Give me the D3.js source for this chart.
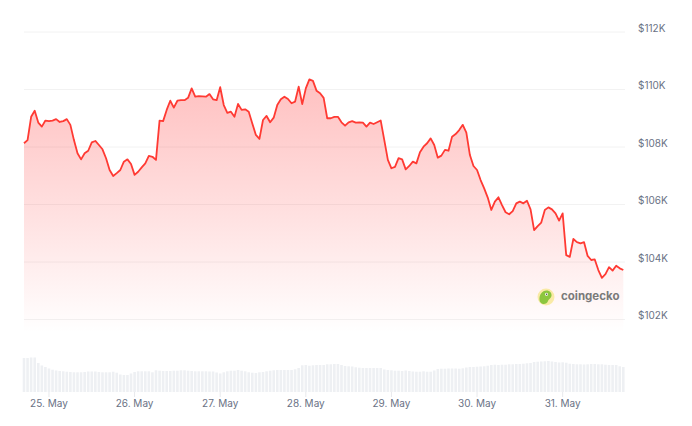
<!DOCTYPE html>
<html>
<head>
<meta charset="utf-8">
<script src="https://cdn.jsdelivr.net/npm/d3@7"></script>
<style>
  html, body { margin: 0; padding: 0; background: #ffffff; }
  svg { display: block; }
</style>
</head>
<body>
<svg id="chart" width="692" height="426"></svg>
<script>
// ---- data (hourly, starting 24 May 17:00 UTC) ----
const startTime = Date.UTC(2025, 4, 24, 17, 0);
const priceK = [
  108.13,108.24,109.05,109.26,108.85,108.71,108.92,108.90,108.92,108.97,
  108.87,108.90,108.97,108.77,108.24,107.78,107.57,107.78,107.87,108.16,
  108.21,108.07,107.92,107.61,107.20,106.99,107.09,107.20,107.49,107.57,
  107.41,107.03,107.14,107.29,107.43,107.69,107.66,107.55,108.92,108.90,
  109.29,109.61,109.37,109.61,109.63,109.63,109.71,110.04,109.75,109.77,
  109.76,109.75,109.84,109.66,109.63,110.08,109.46,109.19,109.23,109.05,
  109.50,109.29,109.31,109.23,108.82,108.42,108.28,108.94,109.08,108.86,
  109.02,109.46,109.66,109.75,109.67,109.52,109.58,110.10,109.49,110.04,
  110.35,110.30,109.96,109.87,109.71,109.00,109.00,109.05,109.05,108.86,
  108.74,108.86,108.90,108.85,108.86,108.85,108.71,108.85,108.80,108.86,
  108.92,108.24,107.55,107.26,107.31,107.61,107.57,107.22,107.34,107.49,
  107.43,107.82,108.01,108.13,108.30,108.07,107.63,107.70,107.90,107.87,
  108.36,108.45,108.59,108.77,108.50,107.72,107.34,107.20,106.85,106.56,
  106.24,105.81,106.10,106.25,105.98,105.73,105.66,105.77,106.04,106.10,
  106.04,106.13,105.83,105.11,105.25,105.37,105.81,105.90,105.83,105.69,
  105.44,105.69,104.24,104.18,104.80,104.69,104.65,104.69,104.21,104.07,
  104.09,103.72,103.45,103.58,103.82,103.70,103.87,103.78,103.72
];
const volumeB = [
  34,34,34.5,34.5,29,26.5,25,23.5,22.3,21.5,
  21,20.7,20.3,20,19.7,19.7,19.7,20,20.5,20.5,
  20.5,20,19.7,19.7,19.7,20.3,19.3,17.5,17,17,
  18.5,20,20.7,20.7,20.7,20.7,19.7,21.7,21.3,21,
  21,21,21.3,21.3,21.7,21.7,21.3,21,20.7,20.7,
  20.7,20.7,20.5,20.5,19.5,18.5,19.7,20.7,21.3,21.3,
  22,21.3,20.7,19.7,19.3,19,19.7,20,20.7,21.3,
  21.7,22,22,22,22,22,22.7,24,26.7,27,
  26.3,26.7,27,27,27,27.7,27.7,28,28,27,
  26,25.7,25.5,24.7,24.3,24,24,24,24,24,
  24,22.5,22,21.7,21.3,21.3,21,21.5,21,20.5,
  20.3,20.3,20.7,20.3,20.3,21.5,23,23.3,23.3,23.5,
  23.5,23.5,23.3,23.7,24.5,25,25,25.3,25.5,25.7,
  26.3,27,27.3,27,27.3,27.3,27.7,27.7,28,28,
  28.3,28.7,29,30,30.3,30.5,30.7,31,30.5,30,
  29.5,29.7,29.3,28.3,28,27.7,27.7,27.5,27.7,28,
  28,27.7,27.7,27.3,27,27,27,25.7,25
];
const priceTicksK = [102, 104, 106, 108, 110, 112];
const dayTicks = [25, 26, 27, 28, 29, 30, 31];
const monthLabel = "May";
const brandText = "coingecko";

// ---- layout ----
const plotLeft = 24, plotRight = 623.3;
const svg = d3.select("#chart");
const HOUR = 3600 * 1000;

const data = priceK.map((p, i) => ({ t: new Date(startTime + i * HOUR), p: p, v: volumeB[i] }));

const x = d3.scaleUtc()
  .domain([new Date(startTime), new Date(startTime + (priceK.length - 1) * HOUR)])
  .range([plotLeft, plotRight]);
const y = d3.scaleLinear().domain([102, 112]).range([319.5, 32]);
const yv = d3.scaleLinear().domain([0, 40]).range([392, 352]);

// gradient
const defs = svg.append("defs");
const grad = defs.append("linearGradient").attr("id", "areaGrad")
  .attr("x1", 0).attr("y1", 0).attr("x2", 0).attr("y2", 1);
grad.append("stop").attr("offset", "0%").attr("stop-color", "#ff3b3b").attr("stop-opacity", 0.32);
grad.append("stop").attr("offset", "55%").attr("stop-color", "#ff3b3b").attr("stop-opacity", 0.15);
grad.append("stop").attr("offset", "100%").attr("stop-color", "#ff3b3b").attr("stop-opacity", 0.0);

// gridlines
svg.append("g").selectAll("line").data(priceTicksK).join("line")
  .attr("x1", plotLeft).attr("x2", 625)
  .attr("y1", d => y(d)).attr("y2", d => y(d))
  .attr("stroke", "#f2f2f2").attr("stroke-width", 1);

// y labels
svg.append("g").selectAll("text").data(priceTicksK).join("text")
  .attr("x", 638).attr("y", d => y(d) - 3)
  .attr("dominant-baseline", "middle")
  .attr("font-family", "Inter, 'Noto Sans', sans-serif")
  .attr("font-size", 10)
  .attr("fill", "#6a7285")
  .text(d => "$" + d + "K");

// area
const area = d3.area().x(d => x(d.t)).y0(332).y1(d => y(d.p)).curve(d3.curveLinear);
svg.append("path").datum(data).attr("d", area).attr("fill", "url(#areaGrad)");

// line
const line = d3.line().x(d => x(d.t)).y(d => y(d.p));
svg.append("path").datum(data).attr("d", line)
  .attr("fill", "none").attr("stroke", "#ff3a33").attr("stroke-width", 1.8)
  .attr("stroke-linejoin", "round");

// volume bars
const bw = 2.6;
svg.append("g").selectAll("rect").data(data).join("rect")
  .attr("x", d => x(d.t) - bw / 2)
  .attr("width", bw)
  .attr("y", d => yv(d.v))
  .attr("height", d => yv(0) - yv(d.v))
  .attr("fill", "#eef0f3");

// x ticks
const tickDates = dayTicks.map(d => new Date(Date.UTC(2025, 4, d)));
svg.append("g").selectAll("line").data(tickDates).join("line")
  .attr("x1", d => x(d)).attr("x2", d => x(d))
  .attr("y1", 392).attr("y2", 397)
  .attr("stroke", "#e8e9ec").attr("stroke-width", 1);
svg.append("g").selectAll("text").data(tickDates).join("text")
  .attr("x", d => x(d)).attr("y", 404)
  .attr("text-anchor", "middle")
  .attr("dominant-baseline", "middle")
  .attr("font-family", "Inter, 'Noto Sans', sans-serif")
  .attr("font-size", 10)
  .attr("fill", "#6a7285")
  .text(d => d.getUTCDate() + ". " + monthLabel);

// brand watermark
const logo = svg.append("g").attr("transform", "translate(546,297)");
logo.append("circle").attr("r", 8.5).attr("fill", "#f9eaa6");
logo.append("path")
  .attr("d", "M-6.5,3 C-7,-2 -4,-6.5 0.5,-6.5 C4,-6.5 6,-4 5.5,-1 C5,1.5 2.5,2 2,4 C1.5,6 -1,7.5 -3,7 C-5,6.5 -6.3,5 -6.5,3 Z")
  .attr("fill", "#8cc63f");
logo.append("circle").attr("cx", 0.5).attr("cy", -2.8).attr("r", 1.5).attr("fill", "#ffffff");
logo.append("circle").attr("cx", 0.6).attr("cy", -2.8).attr("r", 0.8).attr("fill", "#4a4a4a");
svg.append("text").attr("x", 561).attr("y", 297)
  .attr("dominant-baseline", "middle")
  .attr("font-family", "Inter, 'Noto Sans', sans-serif")
  .attr("font-size", 11.5).attr("font-weight", 700)
  .attr("fill", "#7a7a7a")
  .text(brandText);
</script>
</body>
</html>
